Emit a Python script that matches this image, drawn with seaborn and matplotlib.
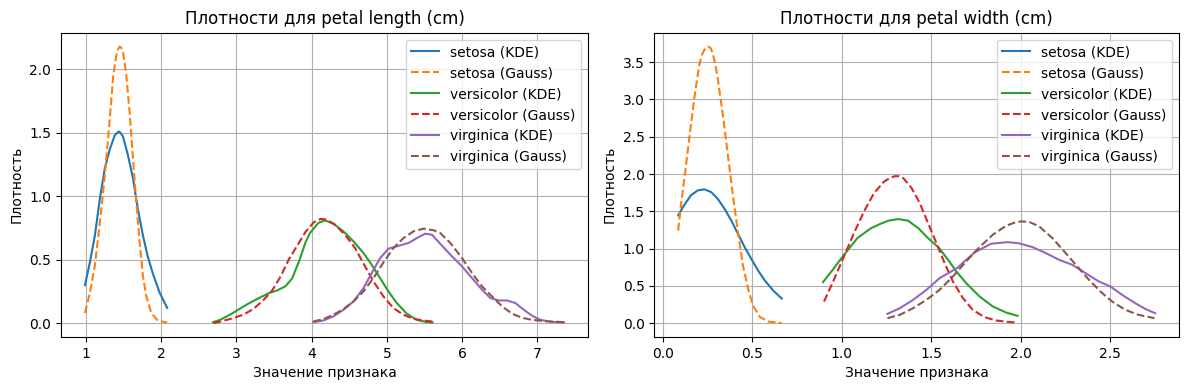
import matplotlib
matplotlib.use("Agg")
import matplotlib.pyplot as plt
import seaborn as sns

# ---------------- petal length (cm) ----------------
pl_setosa_kde_x = [0.987, 1.053, 1.119, 1.185, 1.251, 1.317, 1.383, 1.415, 1.436, 1.46, 1.493, 1.56, 1.626, 1.69, 1.758, 1.82, 1.89, 1.98, 2.08]
pl_setosa_kde_y = [0.30, 0.48, 0.69, 0.98, 1.22, 1.37, 1.48, 1.50, 1.51, 1.50, 1.47, 1.32, 1.14, 0.90, 0.69, 0.53, 0.39, 0.24, 0.12]
pl_setosa_gau_x = [0.987, 1.053, 1.12, 1.185, 1.25, 1.317, 1.36, 1.385, 1.405, 1.428, 1.449, 1.47, 1.493, 1.515, 1.537, 1.581, 1.626, 1.67, 1.714, 1.758, 1.80, 1.868, 1.956, 2.08]
pl_setosa_gau_y = [0.08, 0.24, 0.46, 0.79, 1.16, 1.61, 1.93, 2.04, 2.11, 2.16, 2.18, 2.17, 2.13, 2.05, 1.95, 1.66, 1.29, 0.95, 0.64, 0.37, 0.22, 0.08, 0.02, 0.005]

pl_versi_kde_x = [2.69, 2.787, 2.92, 3.053, 3.187, 3.32, 3.43, 3.542, 3.653, 3.742, 3.844, 3.92, 3.978, 4.089, 4.178, 4.289, 4.422, 4.556, 4.689, 4.80, 4.91, 5.022, 5.133, 5.267, 5.40, 5.533, 5.609]
pl_versi_kde_y = [0.008, 0.027, 0.068, 0.117, 0.163, 0.204, 0.236, 0.258, 0.291, 0.353, 0.505, 0.639, 0.71, 0.79, 0.81, 0.784, 0.724, 0.645, 0.553, 0.46, 0.355, 0.25, 0.158, 0.074, 0.026, 0.008, 0.005]
pl_versi_gau_x = [2.698, 2.83, 2.964, 3.098, 3.231, 3.364, 3.476, 3.587, 3.698, 3.809, 3.92, 4.031, 4.12, 4.2, 4.311, 4.444, 4.578, 4.711, 4.822, 4.956, 5.089, 5.222, 5.356, 5.489, 5.609]
pl_versi_gau_y = [0.0, 0.019, 0.041, 0.068, 0.114, 0.185, 0.258, 0.367, 0.503, 0.611, 0.72, 0.796, 0.822, 0.816, 0.776, 0.697, 0.592, 0.447, 0.329, 0.21, 0.118, 0.066, 0.034, 0.021, 0.013]

pl_virgi_kde_x = [4.022, 4.156, 4.289, 4.422, 4.556, 4.689, 4.80, 4.911, 5.022, 5.156, 5.289, 5.40, 5.511, 5.6, 5.711, 5.844, 6.0, 6.133, 6.267, 6.378, 6.489, 6.6, 6.711, 6.822, 6.933, 7.044, 7.178, 7.356]
pl_virgi_kde_y = [0.008, 0.021, 0.053, 0.105, 0.171, 0.276, 0.395, 0.513, 0.587, 0.61, 0.632, 0.671, 0.705, 0.697, 0.625, 0.54, 0.447, 0.355, 0.263, 0.197, 0.179, 0.179, 0.158, 0.105, 0.058, 0.026, 0.011, 0.005]
pl_virgi_gau_x = [4.022, 4.156, 4.289, 4.422, 4.556, 4.689, 4.822, 4.956, 5.089, 5.222, 5.356, 5.489, 5.622, 5.711, 5.844, 6.0, 6.133, 6.267, 6.4, 6.533, 6.667, 6.8, 6.933, 7.089, 7.356]
pl_virgi_gau_y = [0.013, 0.032, 0.066, 0.11, 0.171, 0.25, 0.355, 0.479, 0.592, 0.671, 0.724, 0.745, 0.732, 0.71, 0.632, 0.513, 0.395, 0.289, 0.21, 0.132, 0.074, 0.042, 0.026, 0.016, 0.008]

# ---------------- petal width (cm) ----------------
pw_setosa_kde_x = [0.085, 0.118, 0.156, 0.194, 0.231, 0.269, 0.306, 0.344, 0.382, 0.419, 0.457, 0.494, 0.532, 0.57, 0.617, 0.664]
pw_setosa_kde_y = [1.445, 1.58, 1.714, 1.78, 1.795, 1.759, 1.669, 1.534, 1.377, 1.198, 1.018, 0.861, 0.704, 0.57, 0.435, 0.33]
pw_setosa_gau_x = [0.085, 0.103, 0.122, 0.147, 0.175, 0.203, 0.218, 0.231, 0.243, 0.254, 0.266, 0.278, 0.292, 0.306, 0.335, 0.363, 0.391, 0.419, 0.447, 0.476, 0.504, 0.541, 0.588, 0.664]
pw_setosa_gau_y = [1.243, 1.624, 1.983, 2.476, 3.015, 3.463, 3.60, 3.665, 3.70, 3.71, 3.69, 3.62, 3.48, 3.284, 2.79, 2.252, 1.714, 1.22, 0.772, 0.458, 0.233, 0.085, 0.022, 0.0]

pw_versi_kde_x = [0.894, 0.955, 1.011, 1.086, 1.16, 1.213, 1.259, 1.315, 1.37, 1.426, 1.481, 1.543, 1.593, 1.639, 1.694, 1.769, 1.843, 1.917, 1.981]
pw_versi_kde_y = [0.55, 0.737, 0.915, 1.14, 1.27, 1.33, 1.374, 1.396, 1.374, 1.275, 1.141, 1.007, 0.85, 0.694, 0.537, 0.358, 0.224, 0.143, 0.098]
pw_versi_gau_x = [0.9, 0.955, 1.011, 1.067, 1.123, 1.179, 1.235, 1.266, 1.296, 1.32, 1.343, 1.389, 1.435, 1.481, 1.528, 1.574, 1.62, 1.676, 1.731, 1.796, 1.861, 1.926, 1.976]
pw_versi_gau_y = [0.29, 0.58, 0.893, 1.206, 1.496, 1.743, 1.898, 1.944, 1.972, 1.97, 1.946, 1.812, 1.611, 1.342, 1.074, 0.805, 0.559, 0.336, 0.179, 0.081, 0.036, 0.018, 0.009]

pw_virgi_kde_x = [1.254, 1.324, 1.398, 1.472, 1.546, 1.643, 1.741, 1.833, 1.926, 1.991, 2.065, 2.139, 2.213, 2.287, 2.361, 2.435, 2.5, 2.565, 2.639, 2.694, 2.75]
pw_virgi_kde_y = [0.125, 0.201, 0.313, 0.447, 0.604, 0.738, 0.949, 1.065, 1.087, 1.07, 1.02, 0.94, 0.85, 0.783, 0.671, 0.56, 0.492, 0.38, 0.268, 0.192, 0.134]
pw_virgi_gau_x = [1.254, 1.324, 1.398, 1.472, 1.546, 1.62, 1.694, 1.769, 1.843, 1.917, 1.96, 2.0, 2.046, 2.102, 2.176, 2.25, 2.315, 2.38, 2.444, 2.509, 2.583, 2.657, 2.746]
pw_virgi_gau_y = [0.067, 0.112, 0.201, 0.313, 0.447, 0.626, 0.828, 1.02, 1.186, 1.306, 1.345, 1.365, 1.358, 1.298, 1.141, 0.94, 0.761, 0.582, 0.425, 0.291, 0.179, 0.112, 0.067]

features = ["petal length (cm)", "petal width (cm)"]
species = ["setosa", "versicolor", "virginica"]

series = {
    "petal length (cm)": {
        "setosa": ((pl_setosa_kde_x, pl_setosa_kde_y), (pl_setosa_gau_x, pl_setosa_gau_y)),
        "versicolor": ((pl_versi_kde_x, pl_versi_kde_y), (pl_versi_gau_x, pl_versi_gau_y)),
        "virginica": ((pl_virgi_kde_x, pl_virgi_kde_y), (pl_virgi_gau_x, pl_virgi_gau_y)),
    },
    "petal width (cm)": {
        "setosa": ((pw_setosa_kde_x, pw_setosa_kde_y), (pw_setosa_gau_x, pw_setosa_gau_y)),
        "versicolor": ((pw_versi_kde_x, pw_versi_kde_y), (pw_versi_gau_x, pw_versi_gau_y)),
        "virginica": ((pw_virgi_kde_x, pw_virgi_kde_y), (pw_virgi_gau_x, pw_virgi_gau_y)),
    },
}

palette = sns.color_palette("tab10")

W, H = 1189, 390
fig = plt.figure(figsize=(W / 100, H / 100), dpi=100)
rects = [
    [61 / W, 1 - 337 / H, (588 - 61) / W, (337 - 32.7) / H],
    [654.3 / W, 1 - 337 / H, (1179 - 654.3) / W, (337 - 32.7) / H],
]
axes = [fig.add_axes(r) for r in rects]

for ax, feat in zip(axes, features):
    ci = 0
    for sp in species:
        (kx, ky), (gx, gy) = series[feat][sp]
        sns.lineplot(x=kx, y=ky, ax=ax, color=palette[ci], linestyle="-",
                     label=f"{sp} (KDE)", estimator=None, sort=False)
        ci += 1
        sns.lineplot(x=gx, y=gy, ax=ax, color=palette[ci], linestyle="--",
                     label=f"{sp} (Gauss)", estimator=None, sort=False)
        ci += 1
    ax.set_title(f"Плотности для {feat}")
    ax.set_xlabel("Значение признака")
    ax.set_ylabel("Плотность")
    ax.grid(True)
    ax.legend(loc="upper right")

plt.savefig("out.png", dpi=100)
